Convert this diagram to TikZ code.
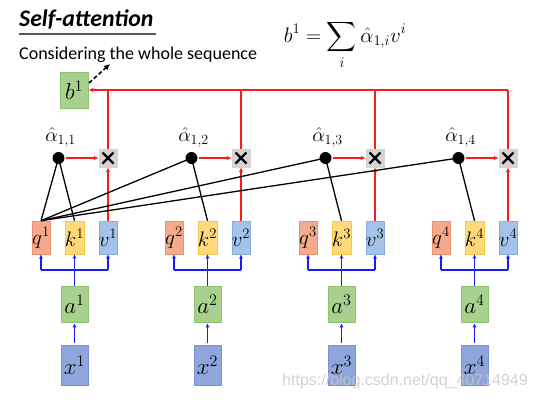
\RequirePackage{fix-cm}
\documentclass[tikz,border=0pt]{standalone}
\usepackage{amsmath}
\usepackage{fontspec}
\setmainfont{Carlito}
\newfontfamily\wmfont{Liberation Sans}
\usetikzlibrary{arrows.meta}
\definecolor{qfill}{HTML}{F4AB8C}
\definecolor{qdraw}{HTML}{EE9070}
\definecolor{kfill}{HTML}{FFD97A}
\definecolor{kdraw}{HTML}{F8C64A}
\definecolor{vfill}{HTML}{A3C4E8}
\definecolor{vdraw}{HTML}{86AEDC}
\definecolor{afill}{HTML}{A9D18E}
\definecolor{adraw}{HTML}{90C272}
\definecolor{xfill}{HTML}{8EA6DC}
\definecolor{xdraw}{HTML}{7A94D2}
\definecolor{mulfill}{HTML}{D4D4D4}
\definecolor{myred}{HTML}{FF1A1A}
\definecolor{myblue}{HTML}{1A1AFF}
\tikzset{
  vecbox/.style={minimum width=18pt, minimum height=33pt, inner sep=0pt, line width=0.6pt, font=\fontsize{21}{21}\selectfont},
  qbox/.style={vecbox, fill=qfill, draw=qdraw},
  kbox/.style={vecbox, fill=kfill, draw=kdraw},
  vbox/.style={vecbox, fill=vfill, draw=vdraw},
  abox/.style={minimum width=27pt, minimum height=36pt, inner sep=0pt, fill=afill, draw=adraw, line width=0.6pt, font=\fontsize{23}{23}\selectfont},
  xbox/.style={minimum width=27pt, minimum height=40pt, inner sep=0pt, fill=xfill, draw=xdraw, line width=0.6pt, font=\fontsize{23}{23}\selectfont},
  mulbox/.style={minimum width=18pt, minimum height=18pt, inner sep=0pt, fill=mulfill, draw=mulfill,
    path picture={\draw[black, line width=2.2pt] ([shift={(-5.5,-5.5)}]path picture bounding box.center) -- ([shift={(5.5,5.5)}]path picture bounding box.center);
                  \draw[black, line width=2.2pt] ([shift={(-5.5,5.5)}]path picture bounding box.center) -- ([shift={(5.5,-5.5)}]path picture bounding box.center);}},
  dotnode/.style={circle, fill=black, minimum size=12pt, inner sep=0pt},
  alabel/.style={font=\fontsize{20}{20}\selectfont, inner sep=0pt},
  redline/.style={draw=myred, line width=1.2pt},
  redarrow/.style={redline, -{Latex[length=5pt,width=4.5pt]}},
  bluearrow/.style={draw=myblue, line width=1.5pt, -{Latex[length=4pt,width=4pt]}},
  blueline/.style={draw=myblue, line width=1.5pt},
  blackline/.style={draw=black, line width=1.3pt},
}
\begin{document}
\begin{tikzpicture}[x=1pt,y=-1pt]
\useasboundingbox (0,0) rectangle (536,400);
% title
\node[anchor=west, inner sep=0pt, font=\fontsize{23.8}{24}\selectfont\bfseries\itshape] (title) at (19,20) {Self-attention};
\draw[line width=1.5pt, draw=black!65] (19,34) -- (156,34);
\node[anchor=west, inner sep=0pt, font=\fontsize{18}{18}\selectfont] (consider) at (19,55) {Considering the whole sequence};
\node[inner sep=0pt, font=\fontsize{21}{21}\selectfont] (eq) at (345,45) {$\displaystyle b^1=\sum_i \hat{\alpha}_{1,i}v^i$};
% b1
\node[abox, minimum width=28pt, minimum height=36pt] (b1) at (74,90) {$b^1$};
\coordinate (dashstart) at (89,83);
\coordinate (dashend) at (110,64);
\draw[black, line width=1.6pt, dashed, dash pattern=on 4pt off 2.5pt, -{Latex[length=6pt,width=6pt]}] (dashstart) -- (dashend);
% groups
\foreach \i/\vx in {1/108,2/241,3/375,4/508}{
  \pgfmathsetmacro{\kx}{\vx-33.5}
  \pgfmathsetmacro{\qx}{\vx-67}
  \pgfmathsetmacro{\dx}{\vx-49.5}
  \node[qbox] (q\i) at (\qx,237.5) {$q^{\i}$};
  \node[kbox] (k\i) at (\kx,237.5) {$k^{\i}$};
  \node[vbox] (v\i) at (\vx,237.5) {$v^{\i}$};
  \node[abox] (a\i) at (\kx,304) {$a^{\i}$};
  \node[xbox] (x\i) at (\kx,365) {$x^{\i}$};
  \node[mulbox] (m\i) at (\vx,158) {};
  \node[dotnode] (d\i) at (\dx,158) {};
  \node[alabel] (al\i) at (\dx+2,137) {$\hat{\alpha}_{1,\i}$};
  \coordinate (top\i) at (\vx,90);
  \coordinate (jq\i) at (\qx,270);
  \coordinate (jv\i) at (\vx,270);
  % blue
  \draw[bluearrow, shorten <=2pt, shorten >=1pt] (x\i.north) -- (a\i.south);
  \draw[bluearrow] (a\i.north) -- (k\i.south);
  \draw[blueline] (jq\i) -- (jv\i);
  \draw[bluearrow] (jq\i) -- (q\i.south);
  \draw[bluearrow] (jv\i) -- (v\i.south);
  % red
  \draw[redarrow] (v\i.north) -- (m\i.south);
  \draw[redarrow, shorten <=1pt] (d\i.east) -- (m\i.west);
  \draw[redline] (m\i.north) -- (top\i);
  % black
  \draw[blackline] (k\i.north) -- (d\i.center);
  \draw[blackline] (q1.north) -- (d\i.center);
}
\draw[redarrow] (top4) -- (b1.east);
% watermark
\node[inner sep=0pt, font=\wmfont\fontsize{16}{16}\selectfont, text=black!22, opacity=0.8] (wm) at (405,381) {https://blog.csdn.net/qq\_40714949};
\end{tikzpicture}
\end{document}
